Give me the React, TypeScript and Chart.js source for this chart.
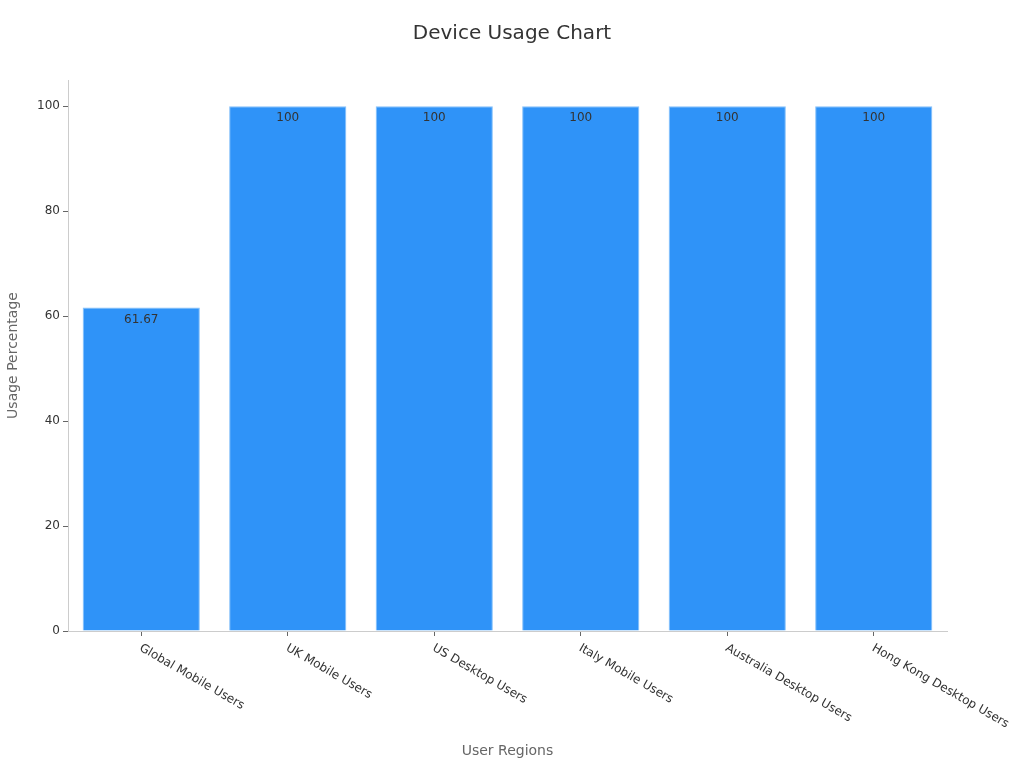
import { useEffect, useRef } from "react";
import { Chart, registerables, type ChartConfiguration, type Plugin } from "chart.js";

Chart.register(...registerables);

const regions = [
  "Global Mobile Users",
  "UK Mobile Users",
  "US Desktop Users",
  "Italy Mobile Users",
  "Australia Desktop Users",
  "Hong Kong Desktop Users",
];
const usage = [61.67, 100, 100, 100, 100, 100];
const yTicks = [0, 20, 40, 60, 80, 100];
const chartTitle = "Device Usage Chart";

const FONT = "'DejaVu Sans', sans-serif";

// title centred on the whole canvas, not on the plot area
const canvasTitle: Plugin<"bar"> = {
  id: "canvasTitle",
  afterDraw(chart) {
    const { ctx, width } = chart;
    ctx.save();
    ctx.font = `20px ${FONT}`;
    ctx.fillStyle = "#333333";
    ctx.textAlign = "center";
    ctx.textBaseline = "middle";
    ctx.fillText(chartTitle, width / 2, 34);
    ctx.restore();
  },
};

// value labels just inside the top of each bar
const barLabels: Plugin<"bar"> = {
  id: "barLabels",
  afterDatasetsDraw(chart) {
    const { ctx } = chart;
    const meta = chart.getDatasetMeta(0);
    ctx.save();
    ctx.font = `12px ${FONT}`;
    ctx.fillStyle = "#333333";
    ctx.textAlign = "center";
    ctx.textBaseline = "top";
    meta.data.forEach((bar, i) => {
      const { x, y } = bar.getProps(["x", "y"], true);
      ctx.fillText(String(usage[i]), x, y + 6);
    });
    ctx.restore();
  },
};

// x tick labels rotated clockwise, starting at the tick
const slantedTicks: Plugin<"bar"> = {
  id: "slantedTicks",
  afterDraw(chart) {
    const { ctx } = chart;
    const xScale = chart.scales.x;
    ctx.save();
    ctx.font = `12px ${FONT}`;
    ctx.fillStyle = "#333333";
    ctx.textAlign = "left";
    ctx.textBaseline = "top";
    regions.forEach((label, i) => {
      const x = xScale.getPixelForTick(i);
      ctx.save();
      ctx.translate(x + 2, xScale.top + 11);
      ctx.rotate(Math.PI / 6);
      ctx.fillText(label, 0, 0);
      ctx.restore();
    });
    ctx.restore();
  },
};

export default function App() {
  const canvasRef = useRef<HTMLCanvasElement | null>(null);

  useEffect(() => {
    if (!canvasRef.current) return;
    document.body.style.margin = "0";

    const config: ChartConfiguration<"bar"> = {
      type: "bar",
      data: {
        labels: regions,
        datasets: [
          {
            label: "Usage Percentage",
            data: usage,
            backgroundColor: "#2f93f8",
            borderColor: "#85c0fa",
            borderWidth: 1,
            categoryPercentage: 0.8,
            barPercentage: 1.0,
          },
        ],
      },
      options: {
        responsive: false,
        animation: false,
        layout: { padding: { left: 0, right: 77, top: 80, bottom: 0 } },
        plugins: {
          legend: { display: false },
          tooltip: { enabled: false },
          title: { display: false },
        },
        scales: {
          x: {
            grid: { drawOnChartArea: false, color: "#666666", tickLength: 5, offset: false },
            border: { color: "#cccccc" },
            ticks: { display: false },
            title: {
              display: true,
              text: "User Regions",
              color: "#666666",
              font: { family: FONT, size: 14, lineHeight: 1.2 },
              padding: { top: 0, bottom: 8 },
            },
            afterFit(scale) {
              scale.height = 137;
            },
          },
          y: {
            min: 0,
            max: 105,
            grid: { drawOnChartArea: false, color: "#666666", tickLength: 5 },
            border: { color: "#cccccc" },
            ticks: {
              color: "#333333",
              font: { family: FONT, size: 12 },
              padding: 3,
            },
            afterBuildTicks(scale) {
              scale.ticks = yTicks.map((value) => ({ value }));
            },
            title: {
              display: true,
              text: "Usage Percentage",
              color: "#666666",
              font: { family: FONT, size: 14, lineHeight: 1.2 },
              padding: { top: 5, bottom: 0 },
            },
            afterFit(scale) {
              scale.width = 68;
            },
          },
        },
      },
      plugins: [canvasTitle, barLabels, slantedTicks],
    };

    const chart = new Chart(canvasRef.current, config);
    return () => {
      chart.destroy();
    };
  }, []);

  return (
    <div style={{ width: 1024, height: 768, background: "#ffffff" }}>
      <canvas ref={canvasRef} width={1024} height={768} />
    </div>
  );
}
